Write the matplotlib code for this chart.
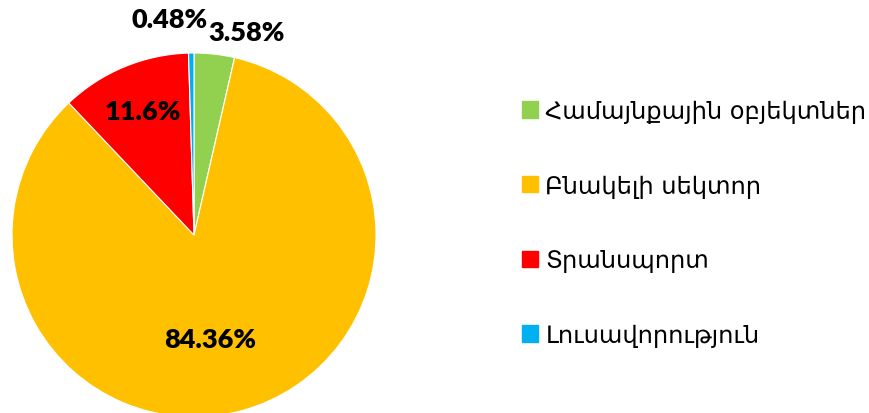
import matplotlib
matplotlib.use("Agg")
import matplotlib.pyplot as plt
import numpy as np

categories = ["Համայնքային օբյեկտներ", "Բնակելի սեկտոր", "Տրանսպորտ", "Լուսավորություն"]
values = [3.58, 84.36, 11.6, 0.48]
value_labels = ["3.58%", "84.36%", "11.6%", "0.48%"]
colors = ["#92D050", "#FFC000", "#FF0000", "#00B0F0"]

W, H = 870, 414
fig = plt.figure(figsize=(W / 100, H / 100), dpi=100)
cx, cy, r = 194, 236, 182
ax = fig.add_axes([(cx - r) / W, (H - cy - r) / H, 2 * r / W, 2 * r / H])
wedges, _ = ax.pie(values, colors=colors, startangle=90, counterclock=False,
                   radius=1, wedgeprops=dict(linewidth=0.8, edgecolor="white"))
ax.set_xlim(-1, 1)
ax.set_ylim(-1, 1)
ax.set_aspect("equal")
ax.axis("off")

# label positions (axes data units, pie radius = 1)
label_pos = [(0.291, 1.115), (0.088, -0.571), (-0.280, 0.681), (-0.132, 1.187)]
for lab, (lx, ly) in zip(value_labels, label_pos):
    ax.text(lx, ly, lab, ha="center", va="center",
            fontsize=19.5, fontweight="heavy", family=["Lato", "DejaVu Sans"],
            clip_on=False)

handles = [plt.Rectangle((0, 0), 1, 1, color=c) for c in colors]
leg = fig.legend(handles, categories, loc="center left",
                 bbox_to_anchor=(522 / W, (H - 224) / H),
                 frameon=False, prop=dict(family="DejaVu Sans", size=17.4),
                 handlelength=0.68, handleheight=0.68, handletextpad=0.29,
                 labelspacing=2.1, borderaxespad=0, borderpad=0)

fig.savefig("out.png", dpi=100)
